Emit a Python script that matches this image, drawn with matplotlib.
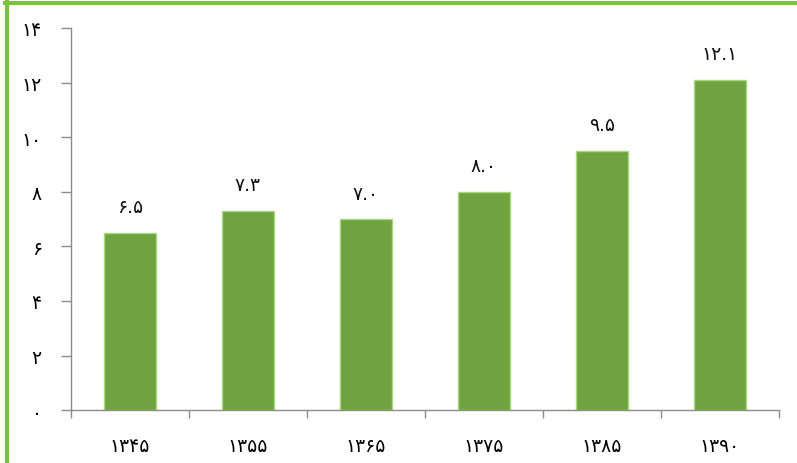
import matplotlib
matplotlib.use('Agg')
import matplotlib.pyplot as plt
from matplotlib.lines import Line2D

# data (Persian digits)
years = ['۱۳۴۵', '۱۳۵۵', '۱۳۶۵', '۱۳۷۵', '۱۳۸۵', '۱۳۹۰']
values = [6.5, 7.3, 7.0, 8.0, 9.5, 12.1]
value_labels = ['۶.۵', '۷.۳', '۷.۰', '۸.۰', '۹.۵', '۱۲.۱']
y_ticks = [0, 2, 4, 6, 8, 10, 12, 14]
y_tick_labels = ['۰', '۲', '۴', '۶', '۸', '۱۰', '۱۲', '۱۴']

plt.rcParams['font.family'] = ['DejaVu Sans']

fig = plt.figure(figsize=(7.97, 4.64), dpi=100)
ax = fig.add_axes([0.089, 0.114, 0.888, 0.8235])

xs = list(range(len(years)))
ax.bar(xs, values, width=0.44, color='#6fa33f', edgecolor='#a9d77e', linewidth=1)

for x, v, lab in zip(xs, values, value_labels):
    ax.text(x, v + 0.6, lab, ha='center', va='bottom', fontsize=13.5, color='#111111')

ax.set_xlim(-0.5, len(years) - 0.5)
ax.set_ylim(0, 14)

ax.set_yticks(y_ticks)
ax.set_yticklabels(y_tick_labels, fontsize=13.5)
ax.tick_params(axis='y', direction='out', length=7, width=1, color='#8c8c8c', pad=14)

ax.set_xticks(xs)
ax.set_xticklabels(years, fontsize=13.5)
ax.tick_params(axis='x', which='major', length=0, pad=19)
ax.set_xticks([i + 0.5 for i in range(-1, len(years))], minor=True)
ax.tick_params(axis='x', which='minor', direction='out', length=6, width=1, color='#8c8c8c')

for s in ['top', 'right']:
    ax.spines[s].set_visible(False)
for s in ['left', 'bottom']:
    ax.spines[s].set_color('#8c8c8c')
    ax.spines[s].set_linewidth(1)

# green frame on top and left edges
fig.add_artist(Line2D([5 / 797, 1], [1 - 3.5 / 464, 1 - 3.5 / 464], color='#7cc142', linewidth=3, transform=fig.transFigure))
fig.add_artist(Line2D([7 / 797, 7 / 797], [0, 1 - 2 / 464], color='#7cc142', linewidth=3, transform=fig.transFigure))

fig.savefig('out.png', dpi=100)
